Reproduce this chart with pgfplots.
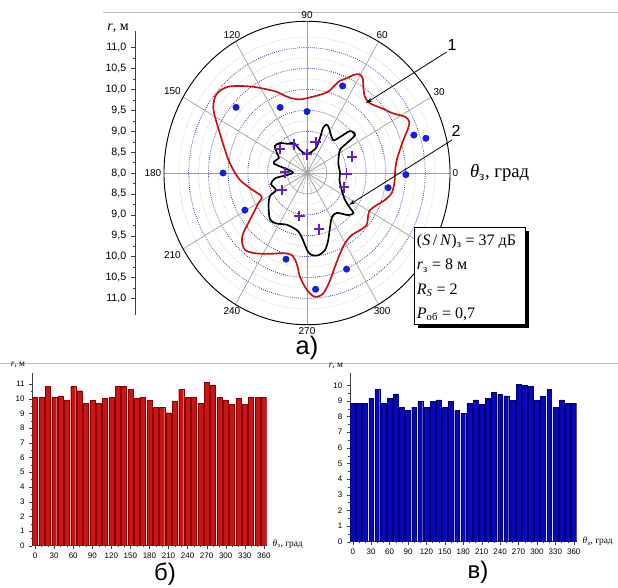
\documentclass[border=0pt]{standalone}
\usepackage{pgfplots}
\pgfplotsset{compat=1.18}
\usepackage{pgfplotstable}
\usepackage{fontspec}
\setmainfont{Liberation Sans}
\newfontfamily\serif{Liberation Serif}
\usetikzlibrary{arrows.meta}

\definecolor{redc}{RGB}{200,16,16}
\definecolor{dotblue}{RGB}{20,30,220}
\definecolor{crossp}{RGB}{100,30,210}
\definecolor{gridblue}{RGB}{60,60,150}
\definecolor{gridlight}{RGB}{195,200,175}
\definecolor{barred}{RGB}{200,22,22}
\definecolor{barredd}{RGB}{140,0,0}
\definecolor{barblue}{RGB}{8,8,185}
\definecolor{barblued}{RGB}{0,0,120}

\pgfplotstableread{
t r
1.8 10.24
7.8 10.30
13.1 10.42
17.9 10.57
22.6 10.78
25.3 10.87
28.4 10.83
33.1 10.61
39.2 10.45
46.2 10.31
51.1 10.34
55.3 10.51
58.0 10.67
60.7 10.71
63.4 10.62
66.0 10.48
69.2 10.36
71.3 10.22
74.5 10.02
80.0 9.90
87.6 9.81
95.8 9.77
102.3 9.83
107.9 9.96
111.6 10.09
117.1 10.25
123.4 10.47
129.3 10.69
134.0 10.87
138.3 10.96
142.0 10.96
146.3 10.86
150.0 10.70
154.6 10.49
160.0 10.30
165.2 10.15
171.1 10.02
177.8 9.87
185.6 9.71
194.2 9.49
203.8 9.30
207.8 9.30
210.4 9.43
215.3 9.67
218.9 9.92
221.7 10.17
224.8 10.33
229.5 10.42
235.5 10.33
244.1 10.15
252.6 10.01
258.8 10.00
263.1 10.18
265.9 10.49
270.0 10.80
273.9 10.97
278.2 10.91
282.9 10.63
287.6 10.35
293.6 10.10
299.8 9.94
307.4 9.87
314.6 9.92
320.6 9.96
327.1 9.85
331.0 9.83
336.6 9.93
341.9 10.08
347.3 10.20
353.7 10.23
}\redcurve

\pgfplotstableread{
t r
0 8.84
16.7 8.83
33.3 9.00
35.2 9.23
36.7 9.52
42.6 9.48
45.8 9.20
50.1 9.03
62.6 9.21
66.7 9.26
69.3 9.15
68.5 8.90
69.1 8.64
90 8.45
107.9 8.58
114.7 8.79
124.8 8.85
133.7 8.99
141.5 9.04
147.9 8.90
153.2 8.80
164.8 8.87
178 8.36
188.7 8.80
196.1 8.95
207.3 8.89
210.4 9.09
218.1 9.24
229.5 9.45
236.9 9.44
247.8 9.34
260.7 9.41
266.4 9.61
270 9.84
273.0 9.96
278.0 9.99
283.9 9.90
288.6 9.69
294.3 9.42
301.1 9.23
308.5 9.22
316.0 9.45
320.9 9.52
322.5 9.38
326.2 9.16
335.2 8.97
348.6 8.84
}\blackcurve

\pgfplotstableread{
t r
66.5 10.27
138.9 10.39
113.5 9.71
90 9.47
18.5 10.86
15.4 11.13
359.1 10.51
350.3 10.09
180 10.13
209.4 9.81
255.5 10.13
274.5 10.79
293.6 10.51
}\bluedots

\pgfplotstableread{
t r
140 8.89
115.7 8.76
90 8.45
73.3 8.77
18.7 9.21
359 9.00
340 9.00
178 8.56
212.4 8.76
259.3 9.05
282.8 9.38
}\crosses

\pgfplotstableread{
a r
0 10.1
10 10.1
20 10.85
30 10.1
40 10.2
50 9.9
60 10.85
70 10.55
80 9.7
90 9.9
100 9.7
110 10.05
120 10.1
130 10.85
140 10.85
150 10.65
160 10.05
170 10.1
180 9.9
190 9.4
200 9.4
210 9.05
220 9.85
230 10.65
240 10.1
250 10.1
260 9.7
270 11.1
280 10.9
290 10.1
300 9.9
310 9.6
320 10.05
330 9.6
340 10.1
350 10.1
360 10.1
}\barsb

\pgfplotstableread{
a r
0 8.83
10 8.83
20 8.83
30 9.15
40 9.72
50 8.87
60 9.15
70 9.45
80 8.6
90 8.4
100 8.6
110 8.98
120 8.6
130 8.98
140 9.06
150 8.6
160 8.98
170 8.38
180 8.21
190 8.85
200 9.06
210 8.79
220 9.15
230 9.53
240 9.4
250 9.32
260 9.04
270 10.04
280 9.98
290 9.91
300 9.04
310 9.28
320 9.72
330 8.6
340 9.06
350 8.83
360 8.83
}\barsv

\begin{document}
\begin{tikzpicture}
\useasboundingbox (0,0) rectangle (463.5pt,441pt);

% faint frame lines
\draw[gray!55, line width=0.6pt] (77pt,432pt) -- (463.5pt,432pt);
\draw[gray!55, line width=0.6pt] (0pt,168.75pt) -- (463.5pt,168.75pt);

% polar grid
\begin{scope}[shift={(230.25pt,311.25pt)}, x=29.55pt, y=31.35pt]
  \foreach \rr in {0.75,1.25,1.75,2.25,2.75,3.25}
    \draw[gridlight, densely dotted, line width=0.5pt] (0,0) circle[radius=\rr];
  \foreach \rr in {1,1.5,2,2.5,3}
    \draw[gridblue, densely dotted, line width=0.6pt] (0,0) circle[radius=\rr];
  \draw[gray!70, line width=0.5pt] (0,0) circle[radius=0.5];
  \foreach \a in {0,15,...,345}
    \draw[gray!60, line width=0.3pt] (0,0) -- (\a:0.5);
  \foreach \a in {0,30,...,330}
    \draw[gray!75, line width=0.5pt] (0,0) -- (\a:3.63);
  \draw[black, line width=0.7pt] (0,0) circle[radius=3.63];
  \foreach \a in {0,30,...,300} {
    \pgfmathtruncatemacro\b{mod(\a+180,360)}
    \node[anchor=\b, inner sep=1.8pt, font=\fontsize{7.5}{9}\selectfont] at (\a:3.63) {\a};
  }
\end{scope}

% polar data
\begin{axis}[at={(230.25pt,311.25pt)}, anchor=origin, scale only axis,
  width=214.53pt, height=227.6pt,
  xmin=-3.63, xmax=3.63, ymin=-3.63, ymax=3.63,
  axis lines=none, clip=false]
\addplot[redc, line width=1.25pt, smooth cycle] table[x expr={(\thisrow{r}-8)*cos(\thisrow{t})}, y expr={(\thisrow{r}-8)*sin(\thisrow{t})}]{\redcurve};
\addplot[black, line width=1.25pt, smooth cycle] table[x expr={(\thisrow{r}-8)*cos(\thisrow{t})}, y expr={(\thisrow{r}-8)*sin(\thisrow{t})}]{\blackcurve};
\addplot[only marks, mark=*, mark size=2.4pt, color=dotblue] table[x expr={(\thisrow{r}-8)*cos(\thisrow{t})}, y expr={(\thisrow{r}-8)*sin(\thisrow{t})}]{\bluedots};
\addplot[only marks, mark=+, mark size=4pt, color=crossp, mark options={line width=1.3pt}] table[x expr={(\thisrow{r}-8)*cos(\thisrow{t})}, y expr={(\thisrow{r}-8)*sin(\thisrow{t})}]{\crosses};
\end{axis}

% left radial scale
\begin{axis}[at={(101.25pt,311.25pt)}, anchor=west, scale only axis,
  width=10pt, height=213.2pt, xmin=0, xmax=1, ymin=-3.4, ymax=3.4,
  axis x line=none, axis y line*=left, xtick=\empty,
  ytick={-3,-2.5,-2,-1.5,-1,-0.5,0,0.5,1,1.5,2,2.5,3},
  yticklabels={{11,0},{10,5},{10,0},{9,5},{9,0},{8,5},{8,0},{8,5},{9,0},{9,5},{10,0},{10,5},{11,0}},
  minor y tick num=1, tick align=outside, major tick length=3pt, minor tick length=1.8pt,
  yticklabel style={font=\fontsize{8}{9}\selectfont},
  y axis line style={line width=0.5pt, black!75}, ytick style={black!75}]
\addplot[draw=none] coordinates {(0,0)};
\end{axis}
\node[font=\serif\fontsize{10.5}{12}\selectfont] at (88.5pt,419.5pt) {\textit{r}, м};

% angle axis label
\node[anchor=west, font=\serif\fontsize{14}{16}\selectfont] at (349pt,311.25pt) {\textit{θ}\textsubscript{з}, град};

% curve labels
\node[font=\fontsize{12}{14}\selectfont] at (339pt,407.25pt) {1};
\draw[-{Stealth[length=5pt,width=3pt]}, line width=0.6pt] (335pt,402pt) -- (274.5pt,363.75pt);
\node[font=\fontsize{12}{14}\selectfont] at (342pt,342.75pt) {2};
\draw[-{Stealth[length=5pt,width=3pt]}, line width=0.6pt] (339pt,336pt) -- (261.75pt,287.25pt);

% info box
\fill[black] (313.5pt,194.8pt) rectangle (396.75pt,267.5pt);
\draw[black, fill=white, line width=0.6pt] (310.5pt,197.8pt) rectangle (393.75pt,270.5pt);
\begin{scope}[every node/.style={anchor=west, inner sep=0pt, font=\serif\fontsize{12}{14}\selectfont}]
\node at (312.5pt,259.7pt) {(\textit{S}\,/\,\textit{N})\textsubscript{з} = 37 дБ};
\node at (312.5pt,241.7pt) {\textit{r}\textsubscript{з} = 8 м};
\node at (312.5pt,223.5pt) {\textit{R}\textsubscript{\textit{S}} = 2};
\node at (312.5pt,205.3pt) {\textit{P}\textsubscript{об} = 0,7};
\end{scope}

\node[font=\fontsize{19}{22}\selectfont] at (230.25pt,180pt) {а)};

% bar chart b
\begin{axis}[at={(24.2pt,31.7pt)}, anchor=south west, scale only axis,
  width=175.8pt, height=129.3pt, xmin=-4.5, xmax=364.5, ymin=0, ymax=11.73,
  axis lines*=left, ybar, bar width=7.9,
  xtick={0,30,...,360}, minor x tick num=2, ytick={0,1,...,11}, minor y tick num=1,
  tick align=outside, major tick length=2.2pt, minor tick length=1.3pt,
  tick label style={font=\fontsize{6}{7}\selectfont},
  /pgf/number format/assume math mode=true,
  axis line style={line width=0.5pt, black!75}, tick style={black!75}]
\addplot[fill=barred, draw=barredd, line width=0.25pt] table[x=a, y=r]{\barsb};
\end{axis}
\node[font=\serif\fontsize{7}{8}\selectfont] at (13.5pt,167pt) {\textit{r}, м};
\node[anchor=west, font=\serif\fontsize{7}{8}\selectfont] at (201pt,33pt) {\textit{θ}\textsubscript{з}, град};
\node[font=\fontsize{18}{21}\selectfont] at (123.75pt,10pt) {б)};

% bar chart v
\begin{axis}[at={(262.5pt,34.7pt)}, anchor=south west, scale only axis,
  width=169.9pt, height=126.75pt, xmin=-4.5, xmax=364.5, ymin=0, ymax=10.8,
  axis lines*=left, ybar, bar width=7.9,
  xtick={0,30,...,360}, minor x tick num=2, ytick={0,1,...,10}, minor y tick num=1,
  tick align=outside, major tick length=2.2pt, minor tick length=1.3pt,
  tick label style={font=\fontsize{6}{7}\selectfont},
  /pgf/number format/assume math mode=true,
  axis line style={line width=0.5pt, black!75}, tick style={black!75}]
\addplot[fill=barblue, draw=barblued, line width=0.25pt] table[x=a, y=r]{\barsv};
\end{axis}
\node[font=\serif\fontsize{7}{8}\selectfont] at (252pt,166.5pt) {\textit{r}, м};
\node[anchor=west, font=\serif\fontsize{7}{8}\selectfont] at (433.5pt,34.7pt) {\textit{θ}\textsubscript{з}, град};
\node[font=\fontsize{18}{21}\selectfont] at (358.5pt,12pt) {в)};
\end{tikzpicture}
\end{document}
